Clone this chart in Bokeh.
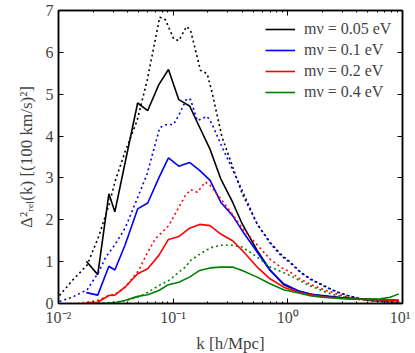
from bokeh.plotting import figure
from bokeh.models import LinearAxis, LogAxis, FixedTicker, Legend, LegendItem, LogScale
from bokeh.embed import file_html
from bokeh.resources import INLINE

# ---- data ----
k_sim = [0.0175, 0.022, 0.0275, 0.031, 0.038, 0.049, 0.060, 0.075, 0.091, 0.112, 0.139, 0.17,
         0.21, 0.26, 0.33, 0.40, 0.54, 0.70, 0.92, 1.24, 1.6, 2.0, 2.9, 4.3, 6.4, 7.8, 9.3]
sim_005 = [1.01, 0.69, 2.62, 2.19, 3.35, 4.79, 4.61, 5.23, 5.59, 4.87, 4.72, 4.21,
           3.68, 2.98, 2.42, 1.90, 1.27, 0.80, 0.45, 0.30, 0.22, 0.19, 0.14, 0.11, 0.09, 0.08, 0.07]
sim_01 = [0.26, 0.20, 0.89, 0.80, 1.39, 2.26, 2.40, 3.00, 3.48, 3.28, 3.37, 3.18,
          2.94, 2.42, 2.10, 1.74, 1.23, 0.79, 0.47, 0.30, 0.22, 0.18, 0.13, 0.10, 0.09, 0.08, 0.07]
sim_02 = [0.02, 0.03, 0.19, 0.20, 0.39, 0.71, 0.83, 1.15, 1.53, 1.60, 1.80, 1.89,
          1.86, 1.66, 1.50, 1.27, 0.87, 0.59, 0.39, 0.27, 0.20, 0.16, 0.12, 0.10, 0.09, 0.08, 0.07]
sim_04 = [0.00, 0.00, 0.01, 0.02, 0.07, 0.17, 0.21, 0.31, 0.45, 0.51, 0.63, 0.79,
          0.85, 0.87, 0.87, 0.79, 0.63, 0.47, 0.33, 0.25, 0.18, 0.15, 0.12, 0.10, 0.11, 0.15, 0.23]

k_lin_005 = [0.0102, 0.0132, 0.0178, 0.0224, 0.0275, 0.0314, 0.0384, 0.0485, 0.0593, 0.0764, 0.0857,
             0.101, 0.112, 0.131, 0.142, 0.173, 0.198, 0.218, 0.267, 0.327, 0.40, 0.54, 0.705, 0.89,
             1.05, 1.29, 1.57, 1.92, 2.35, 2.87, 3.51, 4.3, 5.2, 6.4, 8.3, 9.6]
lin_005 = [0.19, 0.55, 0.92, 1.60, 2.35, 2.95, 3.65, 4.37, 5.33, 6.84, 6.78,
           6.32, 6.28, 6.62, 6.52, 5.57, 5.49, 5.05, 3.97, 3.30, 2.62, 1.90, 1.45, 1.15,
           0.99, 0.75, 0.59, 0.47, 0.35, 0.25, 0.17, 0.11, 0.07, 0.05, 0.03, 0.02]
k_lin_01 = [0.0102, 0.0132, 0.0178, 0.0224, 0.0257, 0.031, 0.0384, 0.0485, 0.0593, 0.0764, 0.0857,
            0.101, 0.112, 0.131, 0.142, 0.162, 0.198, 0.218, 0.267, 0.327, 0.40, 0.54, 0.705, 0.89,
            1.05, 1.29, 1.57, 1.92, 2.35, 2.87, 3.51, 4.3, 5.2, 6.4, 8.3, 9.6]
lin_01 = [0.05, 0.15, 0.33, 0.75, 1.10, 1.40, 1.82, 2.50, 3.10, 4.20, 4.27,
          4.28, 4.50, 4.89, 4.87, 4.37, 4.47, 4.29, 3.74, 3.22, 2.70, 1.90, 1.43, 1.12,
          0.97, 0.74, 0.58, 0.46, 0.34, 0.24, 0.17, 0.11, 0.07, 0.05, 0.03, 0.02]
k_lin_02 = [0.0146, 0.0178, 0.0224, 0.0275, 0.031, 0.0359, 0.0384, 0.050, 0.059, 0.070, 0.0915,
            0.108, 0.128, 0.142, 0.162, 0.191, 0.211, 0.267, 0.327, 0.40, 0.54, 0.705, 0.89,
            1.05, 1.29, 1.57, 1.92, 2.35, 2.87, 3.51, 4.3, 5.2, 6.4, 8.3, 9.6]
lin_02 = [0.00, 0.03, 0.08, 0.19, 0.22, 0.33, 0.40, 0.79, 1.19, 1.55, 1.86,
          2.22, 2.58, 2.72, 2.66, 2.90, 2.82, 2.46, 2.14, 1.80, 1.40, 1.05, 0.85,
          0.75, 0.58, 0.46, 0.36, 0.28, 0.20, 0.14, 0.10, 0.07, 0.05, 0.03, 0.02]
k_lin_04 = [0.022, 0.031, 0.038, 0.049, 0.057, 0.075, 0.0915, 0.112, 0.128, 0.142, 0.173, 0.211,
            0.258, 0.327, 0.40, 0.54, 0.705, 0.95, 1.12, 1.38, 1.68, 2.05, 2.5, 3.3, 4.3, 6.4, 8.3, 9.6]
lin_04 = [0.00, 0.03, 0.07, 0.15, 0.23, 0.43, 0.55, 0.75, 0.87, 1.03, 1.19, 1.33,
          1.39, 1.39, 1.35, 1.11, 0.87, 0.72, 0.63, 0.49, 0.39, 0.29, 0.21, 0.14, 0.09, 0.05, 0.03, 0.02]

labels = ["mν = 0.05 eV", "mν = 0.1 eV", "mν = 0.2 eV", "mν = 0.4 eV"]
colors = ["#000000", "#0000ff", "#ff0000", "#008000"]

x_major = [0.01, 0.1, 1, 10]
x_major_labels = {0.01: "10⁻²", 0.1: "10⁻¹", 1: "10⁰", 10: "10¹"}
x_minor = [m * d for d in (0.01, 0.1, 1) for m in range(2, 10)]
y_major = [0, 1, 2, 3, 4, 5, 6, 7]

FONT = "Liberation Serif"

p = figure(x_axis_type=None, y_axis_type=None, x_range=(0.01, 10), y_range=(0, 7),
           frame_width=344, frame_height=293, output_backend="svg", toolbar_location=None,
           min_border_left=58, min_border_right=8, min_border_top=10, min_border_bottom=46,
           x_axis_location=None, y_axis_location=None)
p.x_scale = LogScale()
p.xgrid.visible = False
p.ygrid.visible = False
p.outline_line_color = "black"
p.outline_line_width = 1.5
p.background_fill_color = "white"
p.border_fill_color = "white"

xt = FixedTicker(ticks=x_major, minor_ticks=x_minor)
yt = FixedTicker(ticks=y_major, minor_ticks=[])

def style(ax, show_labels):
    ax.major_tick_in = 5
    ax.major_tick_out = 0
    ax.minor_tick_in = 2
    ax.minor_tick_out = 0
    ax.axis_line_width = 1.5
    ax.major_tick_line_width = 1
    ax.minor_tick_line_width = 1
    ax.major_label_text_font = FONT
    ax.major_label_text_font_size = "16px" if show_labels else "0px"
    ax.major_label_standoff = 5 if show_labels else 0
    ax.axis_label_text_font = FONT
    ax.axis_label_text_font_style = "normal"
    ax.axis_label_text_font_size = "17px"

bx = LogAxis(ticker=xt, major_label_overrides=x_major_labels, axis_label="k [h/Mpc]")
style(bx, True)
bx.axis_label_standoff = 5
p.add_layout(bx, "below")
tx = LogAxis(ticker=xt)
style(tx, False)
tx.major_label_overrides = {v: "" for v in x_major}
p.add_layout(tx, "above")
ly = LinearAxis(ticker=yt, axis_label="Δ²ᵣₑₗ(k) [(100 km/s)²]")
style(ly, True)
ly.axis_label_standoff = 7
p.add_layout(ly, "left")
ry = LinearAxis(ticker=yt)
style(ry, False)
ry.major_label_overrides = {v: "" for v in y_major}
p.add_layout(ry, "right")

sims = [sim_005, sim_01, sim_02, sim_04]
lins = [(k_lin_005, lin_005), (k_lin_01, lin_01), (k_lin_02, lin_02), (k_lin_04, lin_04)]
items = []
for lab, col, s, (kl, l) in zip(labels, colors, sims, lins):
    p.line(kl, l, line_color=col, line_width=1.6, line_dash="2 3")
    r = p.line(k_sim, s, line_color=col, line_width=1.6)
    items.append(LegendItem(label=lab, renderers=[r]))

leg = Legend(items=items, location=(207, 201), border_line_color=None,
             background_fill_alpha=0, label_text_font=FONT, label_text_font_size="16px",
             glyph_width=30, glyph_height=20, label_height=20, spacing=1,
             label_standoff=9, padding=5, margin=0)
p.add_layout(leg)

open("out.html", "w").write(file_html(p, INLINE))
